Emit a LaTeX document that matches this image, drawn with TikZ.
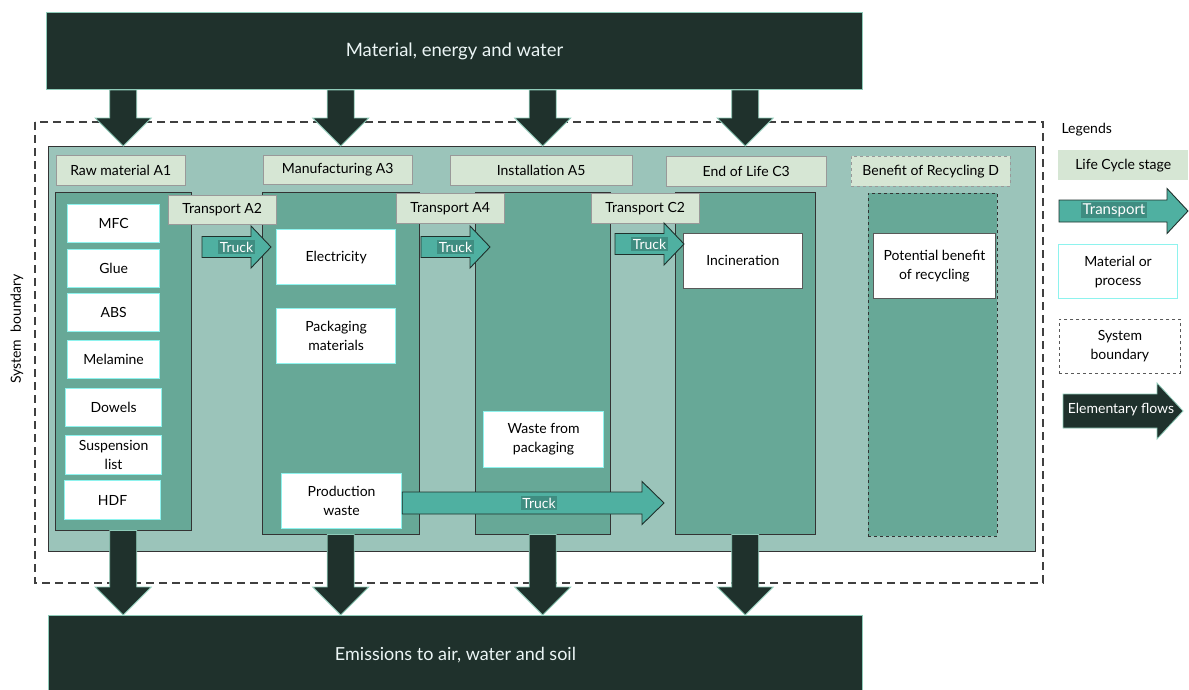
\documentclass[tikz,border=0pt]{standalone}
\usepackage{fontspec}
\setmainfont{Lato}
\usetikzlibrary{calc}

\definecolor{darkflow}{HTML}{1F312C}
\definecolor{panelgreen}{HTML}{9BC4BA}
\definecolor{stagegreen}{HTML}{67A897}
\definecolor{labelgreen}{HTML}{D6E6D4}
\definecolor{truckgreen}{HTML}{4FB0A1}
\definecolor{edgecyan}{HTML}{8EF3EE}
\definecolor{edgeteal}{HTML}{8FCBB9}

\tikzset{
  wh/.style 2 args={minimum width=#1pt, minimum height=#2pt},
  txt/.style={font=\fontsize{14}{19}\selectfont},
  stagelabel/.style={txt, draw=black!40, fill=labelgreen, anchor=north west, inner sep=1pt},
  column/.style={draw=black!80, fill=stagegreen, anchor=north west},
  matbox/.style={txt, draw=edgecyan, line width=1.2pt, fill=white, anchor=north west, align=center, inner sep=1pt},
  procbox/.style={txt, draw=black!65, line width=0.8pt, fill=white, anchor=north west, align=center, inner sep=1pt},
  flow/.style={fill=darkflow, draw=edgeteal, line width=0.8pt},
  truck/.style={fill=truckgreen, draw=darkflow, line width=0.9pt},
  trucktext/.style={font=\fontsize{14}{15}\selectfont, text=white, fill=truckgreen!80!black, inner sep=1.5pt}
}

% downward block arrow: from, tip
\newcommand\flowdown[2]{%
  \draw[flow] let \p1=(#1), \p2=(#2) in
    (\x1-13.5pt,\y1) -- (\x1-13.5pt,\y2+28pt) -- (\x1-28pt,\y2+28pt) -- (\x2,\y2)
    -- (\x1+28pt,\y2+28pt) -- (\x1+13.5pt,\y2+28pt) -- (\x1+13.5pt,\y1) -- cycle;}
% rightward block arrow: style, from, tip, shaft half, head half, head length
\newcommand\flowright[6]{%
  \draw[#1] let \p1=(#2), \p2=(#3) in
    (\x1,\y1+#4) -- (\x2-#6,\y1+#4) -- (\x2-#6,\y1+#5) -- (\x2,\y1)
    -- (\x2-#6,\y1-#5) -- (\x2-#6,\y1-#4) -- (\x1,\y1-#4) -- cycle;}

\begin{document}
\begin{tikzpicture}[x=1pt, y=-1pt]
  \useasboundingbox (0,0) rectangle (1189,689);

  % System boundary
  \draw[black!75, line width=1.6pt, dash pattern=on 8pt off 5pt] (35,122) rectangle (1043,583);
  \node[txt, rotate=90] (sysb) at (17,329) {System\ \ boundary};
  \node[fill=panelgreen, draw=black!80, anchor=north west, wh={987}{405}] (panel) at (48,146) {};

  % Top and bottom flows
  \node[fill=darkflow, draw=edgeteal, line width=1pt, anchor=north west, wh={816}{77},
        text=white!92!teal, font=\fontsize{18.5}{22}\selectfont] (top) at (46,12) {Material, energy and water};
  \node[fill=darkflow, draw=edgeteal, line width=1pt, anchor=north west, wh={814}{80},
        text=white!92!teal, font=\fontsize{18}{22}\selectfont, text depth=0pt] (bottom) at (48,615) {\raisebox{3pt}{Emissions to air, water and soil}};

  % Stage columns
  \node[column, wh={136}{338}] (colA1) at (55,192) {};
  \node[column, wh={157}{342}] (colA3) at (262,192) {};
  \node[column, wh={135}{342}] (colA5) at (475,192) {};
  \node[column, wh={140}{342}] (colC3) at (675,192) {};
  \node[column, wh={129}{343}, dashed, line width=0.9pt] (colD) at (868,193) {};

  % Stage labels
  \node[stagelabel, wh={129}{30}] (labA1) at (56,155) {Raw material A1};
  \node[stagelabel, wh={149}{29}] (labA3) at (263,155) {Manufacturing A3};
  \node[stagelabel, wh={182}{30}] (labA5) at (450,155) {Installation A5};
  \node[stagelabel, wh={160}{30}] (labC3) at (666,156) {End of Life C3};
  \node[stagelabel, wh={159}{30}, dashed] (labD) at (851,156) {Benefit of Recycling D};
  \node[stagelabel, wh={108}{29}] (labA2) at (168,195) {Transport A2};
  \node[stagelabel, wh={108}{30}] (labA4) at (396,193) {Transport A4};
  \node[stagelabel, wh={108}{30}] (labC2) at (591,193) {Transport C2};

  % Raw materials
  \node[matbox, wh={92}{38}] (mfc) at (67,204) {MFC};
  \node[matbox, wh={92}{38}] (glue) at (67,249) {Glue};
  \node[matbox, wh={92}{38}] (abs) at (67,293) {ABS};
  \node[matbox, wh={92}{38}] (mel) at (67,340) {Melamine};
  \node[matbox, wh={96}{38}] (dow) at (65,388) {Dowels};
  \node[matbox, wh={96}{39}] (susp) at (65,435) {Suspension\\list};
  \node[matbox, wh={96}{39}] (hdf) at (64,480) {HDF};

  % Processes
  \node[matbox, wh={119}{55}] (elec) at (276,229) {Electricity};
  \node[matbox, wh={119}{55}] (pack) at (276,308) {Packaging\\materials};
  \node[matbox, wh={120}{55}] (prodw) at (281,473) {Production\\waste};
  \node[matbox, wh={120}{56}] (packw) at (483,411) {Waste from\\packaging};
  \node[procbox, wh={119}{55}] (inc) at (683,233) {Incineration};
  \node[procbox, wh={122}{65}] (recb) at (873,233) {Potential benefit\\of recycling};

  % Transport
  \coordinate (tA2s) at (202,247);  \coordinate (tA2e) at (271,247);
  \coordinate (tA4s) at (421,247);  \coordinate (tA4e) at (490,247);
  \coordinate (tC2s) at (615,244);  \coordinate (tC2e) at (684,244);
  \coordinate (tWe) at (664,503);
  \flowright{truck}{tA2s}{tA2e}{10.5pt}{21pt}{20pt}
  \flowright{truck}{tA4s}{tA4e}{10.5pt}{21pt}{20pt}
  \flowright{truck}{tC2s}{tC2e}{10.5pt}{21pt}{20pt}
  \flowright{truck}{prodw.east |- tWe}{tWe}{11pt}{21.5pt}{22pt}
  \node[trucktext] (trA2) at ($(tA2s)!0.5!(tA2e)$) {Truck};
  \node[trucktext] (trA4) at ($(tA4s)!0.5!(tA4e)$) {Truck};
  \node[trucktext] (trC2) at ($(tC2s)!0.5!(tC2e)$) {Truck};
  \node[trucktext] (trW) at (539,503) {Truck};

  % Elementary flows in and out
  \foreach \c in {colA1,colA3,colA5,colC3} {
    \flowdown{\c.north |- top.south}{\c.north |- panel.north}
    \flowdown{\c.south}{\c.south |- bottom.north}
  }

  % Legends
  \node[txt, anchor=west] (leg) at (1058,130) {Legends};
  \node[txt, fill=labelgreen, anchor=north west, wh={130}{30}, inner sep=1pt] (legstage) at (1058,150) {Life Cycle stage};
  \coordinate (legts) at (1059,211);  \coordinate (legte) at (1188,211);
  \flowright{truck}{legts}{legte}{11pt}{22.5pt}{21pt}
  \node[trucktext, font=\fontsize{15}{16}\selectfont] (legtr) at (1114,210) {Transport};
  \node[matbox, wh={119}{54}] (legmat) at (1058,244) {Material or\\process};
  \node[procbox, wh={121}{54}, dashed, fill=none] (legsys) at (1059,319) {System\\boundary};
  \coordinate (leges) at (1063,411);  \coordinate (legee) at (1183,411);
  \flowright{flow}{leges}{legee}{17pt}{28pt}{26pt}
  \node[txt, text=white] (legel) at (1121,410) {Elementary flows};
\end{tikzpicture}
\end{document}
